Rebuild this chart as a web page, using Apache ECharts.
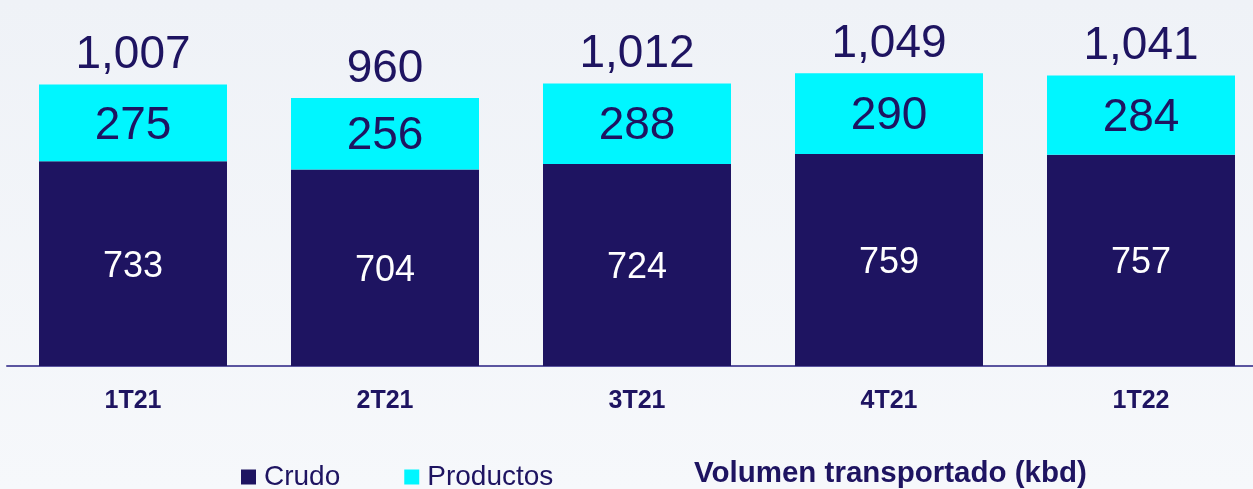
<!DOCTYPE html>
<html>
<head>
<meta charset="utf-8">
<script src="https://cdn.jsdelivr.net/npm/echarts@6/dist/echarts.min.js"></script>
<style>
html,body{margin:0;padding:0;}
#chart{width:1253px;height:489px;}
</style>
</head>
<body>
<div id="chart"></div>
<script>
const categories = ['1T21', '2T21', '3T21', '4T21', '1T22'];
const crudo = [733, 704, 724, 759, 757];
const productos = [275, 256, 288, 290, 284];
const totals = [1007, 960, 1012, 1049, 1041];
const seriesNames = ['Crudo', 'Productos'];
const titleText = 'Volumen transportado (kbd)';

const navy = '#1e1461';
const cyan = '#00f6ff';
const fmt = v => v.toLocaleString('en-US');

const chart = echarts.init(document.getElementById('chart'));
chart.setOption({
  animation: false,
  backgroundColor: {
    type: 'linear', x: 0, y: 0, x2: 0, y2: 1,
    colorStops: [{offset: 0, color: '#eff2f7'}, {offset: 1, color: '#f6f8fb'}]
  },
  textStyle: {fontFamily: 'Liberation Sans, Arial, sans-serif'},
  title: {
    text: titleText,
    left: 689, top: 454,
    textStyle: {fontSize: 29.5, fontWeight: 'bold', color: navy, fontFamily: 'Liberation Sans, Arial, sans-serif'}
  },
  legend: {
    data: seriesNames,
    left: 236, top: 458,
    icon: 'rect', itemWidth: 15, itemHeight: 15, itemGap: 64,
    textStyle: {fontSize: 28, color: navy, padding: [0, 0, 0, 3]}
  },
  grid: {left: 7, width: 1260, top: 31, bottom: 123, containLabel: false, outerBoundsMode: 'none'},
  xAxis: {
    type: 'category', data: categories,
    axisLine: {lineStyle: {color: '#5b55a0', width: 2}},
    axisTick: {show: false},
    axisLabel: {fontSize: 25, fontWeight: 'bold', color: navy, margin: 23}
  },
  yAxis: {type: 'value', min: 0, max: 1200, show: false, splitLine: {show: false}},
  series: [
    {
      name: seriesNames[0], type: 'bar', stack: 'v', barWidth: 188,
      data: crudo, itemStyle: {color: navy},
      label: {show: true, position: 'inside', offset: [0, 3], color: '#ffffff', fontSize: 36, formatter: p => fmt(p.value)}
    },
    {
      name: seriesNames[1], type: 'bar', stack: 'v', barWidth: 188,
      data: productos, itemStyle: {color: cyan},
      label: {show: true, position: 'inside', offset: [0, 3], color: navy, fontSize: 46, formatter: p => fmt(p.value)}
    },
    {
      name: 'Total', type: 'bar', stack: 'v', barWidth: 188,
      data: totals.map(() => 0), itemStyle: {color: 'transparent'},
      label: {show: true, position: 'top', distance: 6, color: navy, fontSize: 46,
        formatter: p => fmt(totals[p.dataIndex])}
    }
  ]
});
</script>
</body>
</html>
